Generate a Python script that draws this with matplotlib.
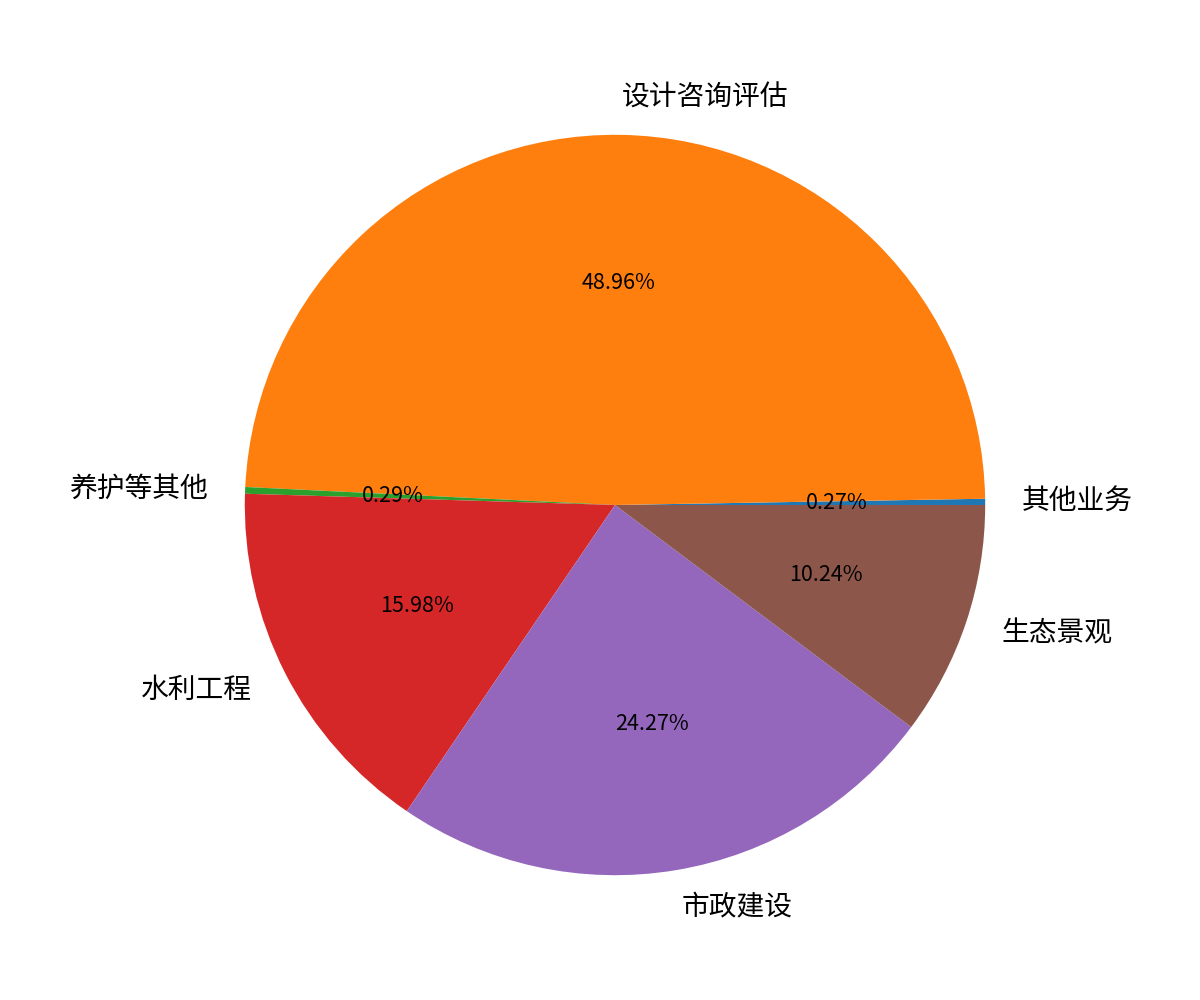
import matplotlib
matplotlib.use("Agg")
import matplotlib.pyplot as plt

labels = ["其他业务", "设计咨询评估", "养护等其他", "水利工程", "市政建设", "生态景观"]
values = [0.27, 48.96, 0.29, 15.98, 24.27, 10.24]

plt.rcParams['font.family'] = ['Noto Sans CJK SC', 'DejaVu Sans']

fig, ax = plt.subplots(figsize=(12, 10), dpi=100)
wedges, texts, autotexts = ax.pie(values, labels=labels, autopct='%.2f%%',
                                  textprops={'fontsize': 20})
for t in autotexts:
    t.set_fontsize(15.5)
ax.set_xlim(-1.04, 1.04)
ax.set_ylim(-1.04, 1.04)
fig.savefig("out.png")
